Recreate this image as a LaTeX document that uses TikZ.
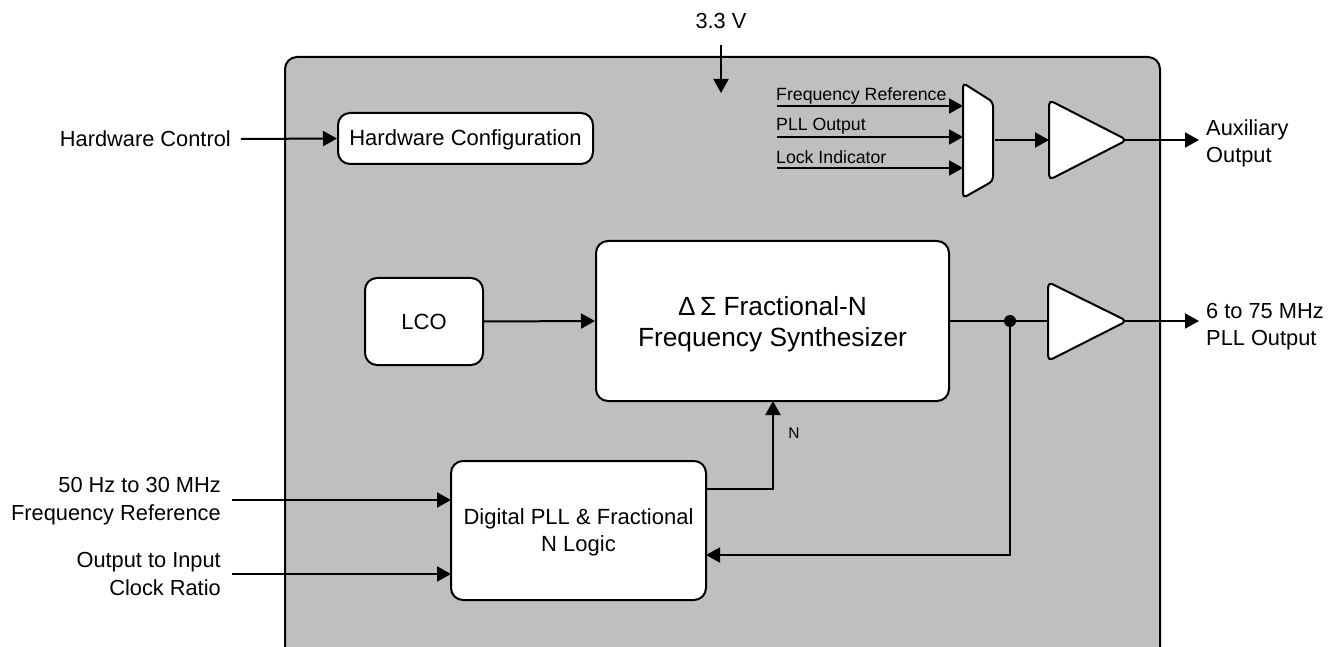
\documentclass[tikz,border=0pt]{standalone}
\usepackage{fontspec}
\setmainfont{Liberation Sans}
\usetikzlibrary{arrows.meta}
\tikzset{
  x=1pt,y=-1pt,
  wire/.style={line width=2pt,draw=black},
  arr/.style={wire,-{Triangle[length=14pt,width=15pt]}},
  block/.style={draw=black,line width=2pt,fill=white,rounded corners=12pt,inner sep=0pt,align=center,font=\fontsize{22}{27}\selectfont},
  shapebox/.style={draw=black,line width=2pt,fill=white,rounded corners=5pt},
  muxbox/.style={draw=black,line width=2pt,fill=white,rounded corners=4pt},
  lab/.style={font=\fontsize{21.8}{28}\selectfont,inner ysep=0pt},
  small/.style={font=\fontsize{17.7}{20}\selectfont,inner sep=0pt,anchor=west},
}
\begin{document}
\begin{tikzpicture}
\useasboundingbox (0,0) rectangle (1342,647);
\clip (0,0) rectangle (1342,647);
\fill[white] (0,0) rectangle (1342,647);
\draw[line width=2pt,fill=black!25,rounded corners=12pt] (285,57) rectangle (1160,665);

\node[block,minimum width=255pt,minimum height=51pt] (hw) at (465.5,138.5) {\rule{0pt}{19pt}Hardware Configuration};
\node[block,minimum width=118pt,minimum height=87pt] (lco) at (424,321.5) {LCO};
\node[block,minimum width=353pt,minimum height=160pt,font=\fontsize{26.3}{31}\selectfont] (fs) at (772.5,321) {\rule{0pt}{25pt}Δ\,Σ Fractional-N\\Frequency Synthesizer};
\node[block,minimum width=255pt,minimum height=139pt] (dp) at (578.5,530.5) {\rule{0pt}{20pt}Digital PLL \& Fractional\\N Logic};

% multiplexer
\coordinate (m1) at (963,83);
\coordinate (m2) at (993,102);
\coordinate (m3) at (993,181);
\coordinate (m4) at (963,198);
\draw[muxbox] (m1) -- (m2) -- (m3) -- (m4) -- cycle;
\coordinate (m5) at (963,106);
\coordinate (m6) at (963,137);
\coordinate (m7) at (963,168);
\coordinate (m8) at (995,140);

% buffers
\coordinate (a1) at (1049,100);
\coordinate (a2) at (1127,140);
\coordinate (a3) at (1049,180);
\coordinate (a4) at (1049,140);
\coordinate (a5) at (1124,140);
\draw[shapebox] (a1) -- (a2) -- (a3) -- cycle;
\coordinate (b1) at (1048,282);
\coordinate (b2) at (1127,321);
\coordinate (b3) at (1048,361);
\coordinate (b4) at (1048,321);
\coordinate (b5) at (1124,321);
\draw[shapebox] (b1) -- (b2) -- (b3) -- cycle;

% labels
\node[lab,anchor=south] (v) at (721,29) {3.3 V};
\node[lab,anchor=east,inner xsep=10pt] (hc) at (241,139) {Hardware Control};
\node[lab,anchor=east,align=right,inner xsep=11pt] (fr) at (232,501) {50 Hz to 30 MHz\\Frequency Reference};
\node[lab,anchor=east,align=right,inner xsep=11pt] (ratio) at (232,574) {Output to Input\\Clock Ratio};
\node[lab,anchor=west,align=left,inner xsep=7pt,font=\fontsize{21.8}{27}\selectfont] (aux) at (1199,143) {Auxiliary\\Output};
\node[lab,anchor=west,align=left,inner xsep=7pt,font=\fontsize{21.8}{27}\selectfont] (pll) at (1199,327) {6 to 75 MHz\\PLL Output};
\node[font=\fontsize{15.5}{18}\selectfont,inner sep=0pt] (n) at (794,433) {N};

\node[small] (t1) at (776,96) {Frequency Reference};
\node[small] (t2) at (776,126) {PLL Output};
\node[small] (t3) at (776,157) {Lock Indicator};
\coordinate (s1) at (777,106);
\coordinate (s2) at (777,137);
\coordinate (s3) at (777,168);

% connectors
\coordinate (vs) at (721,45);
\coordinate (ve) at (721,93);
\draw[arr] (vs) -- (ve);
\draw[arr] (hc.east) -- (hw.west);
\draw[arr] (s1) -- (m5);
\draw[arr] (s2) -- (m6);
\draw[arr] (s3) -- (m7);
\draw[arr] (m8) -- (a4);
\draw[arr] (a5) -- (aux.west |- a5);
\draw[arr] (b5) -- (pll.west |- b5);
\draw[arr] (lco.east) -- (fs.west);
\draw[wire] (fs.east) -- (b4);
\coordinate (j) at (1010,321);
\fill (j) circle (6pt);
\coordinate (dpin) at (706,555);
\draw[arr] (j) |- (dpin);
\coordinate (dpout) at (706,489);
\coordinate (fsin) at (773,401);
\draw[arr] (dpout) -| (fsin);
\coordinate (i1) at (451,500);
\coordinate (i2) at (451,574);
\draw[arr] (fr.east |- i1) -- (i1);
\draw[arr] (ratio.east) -- (i2);
\end{tikzpicture}
\end{document}
